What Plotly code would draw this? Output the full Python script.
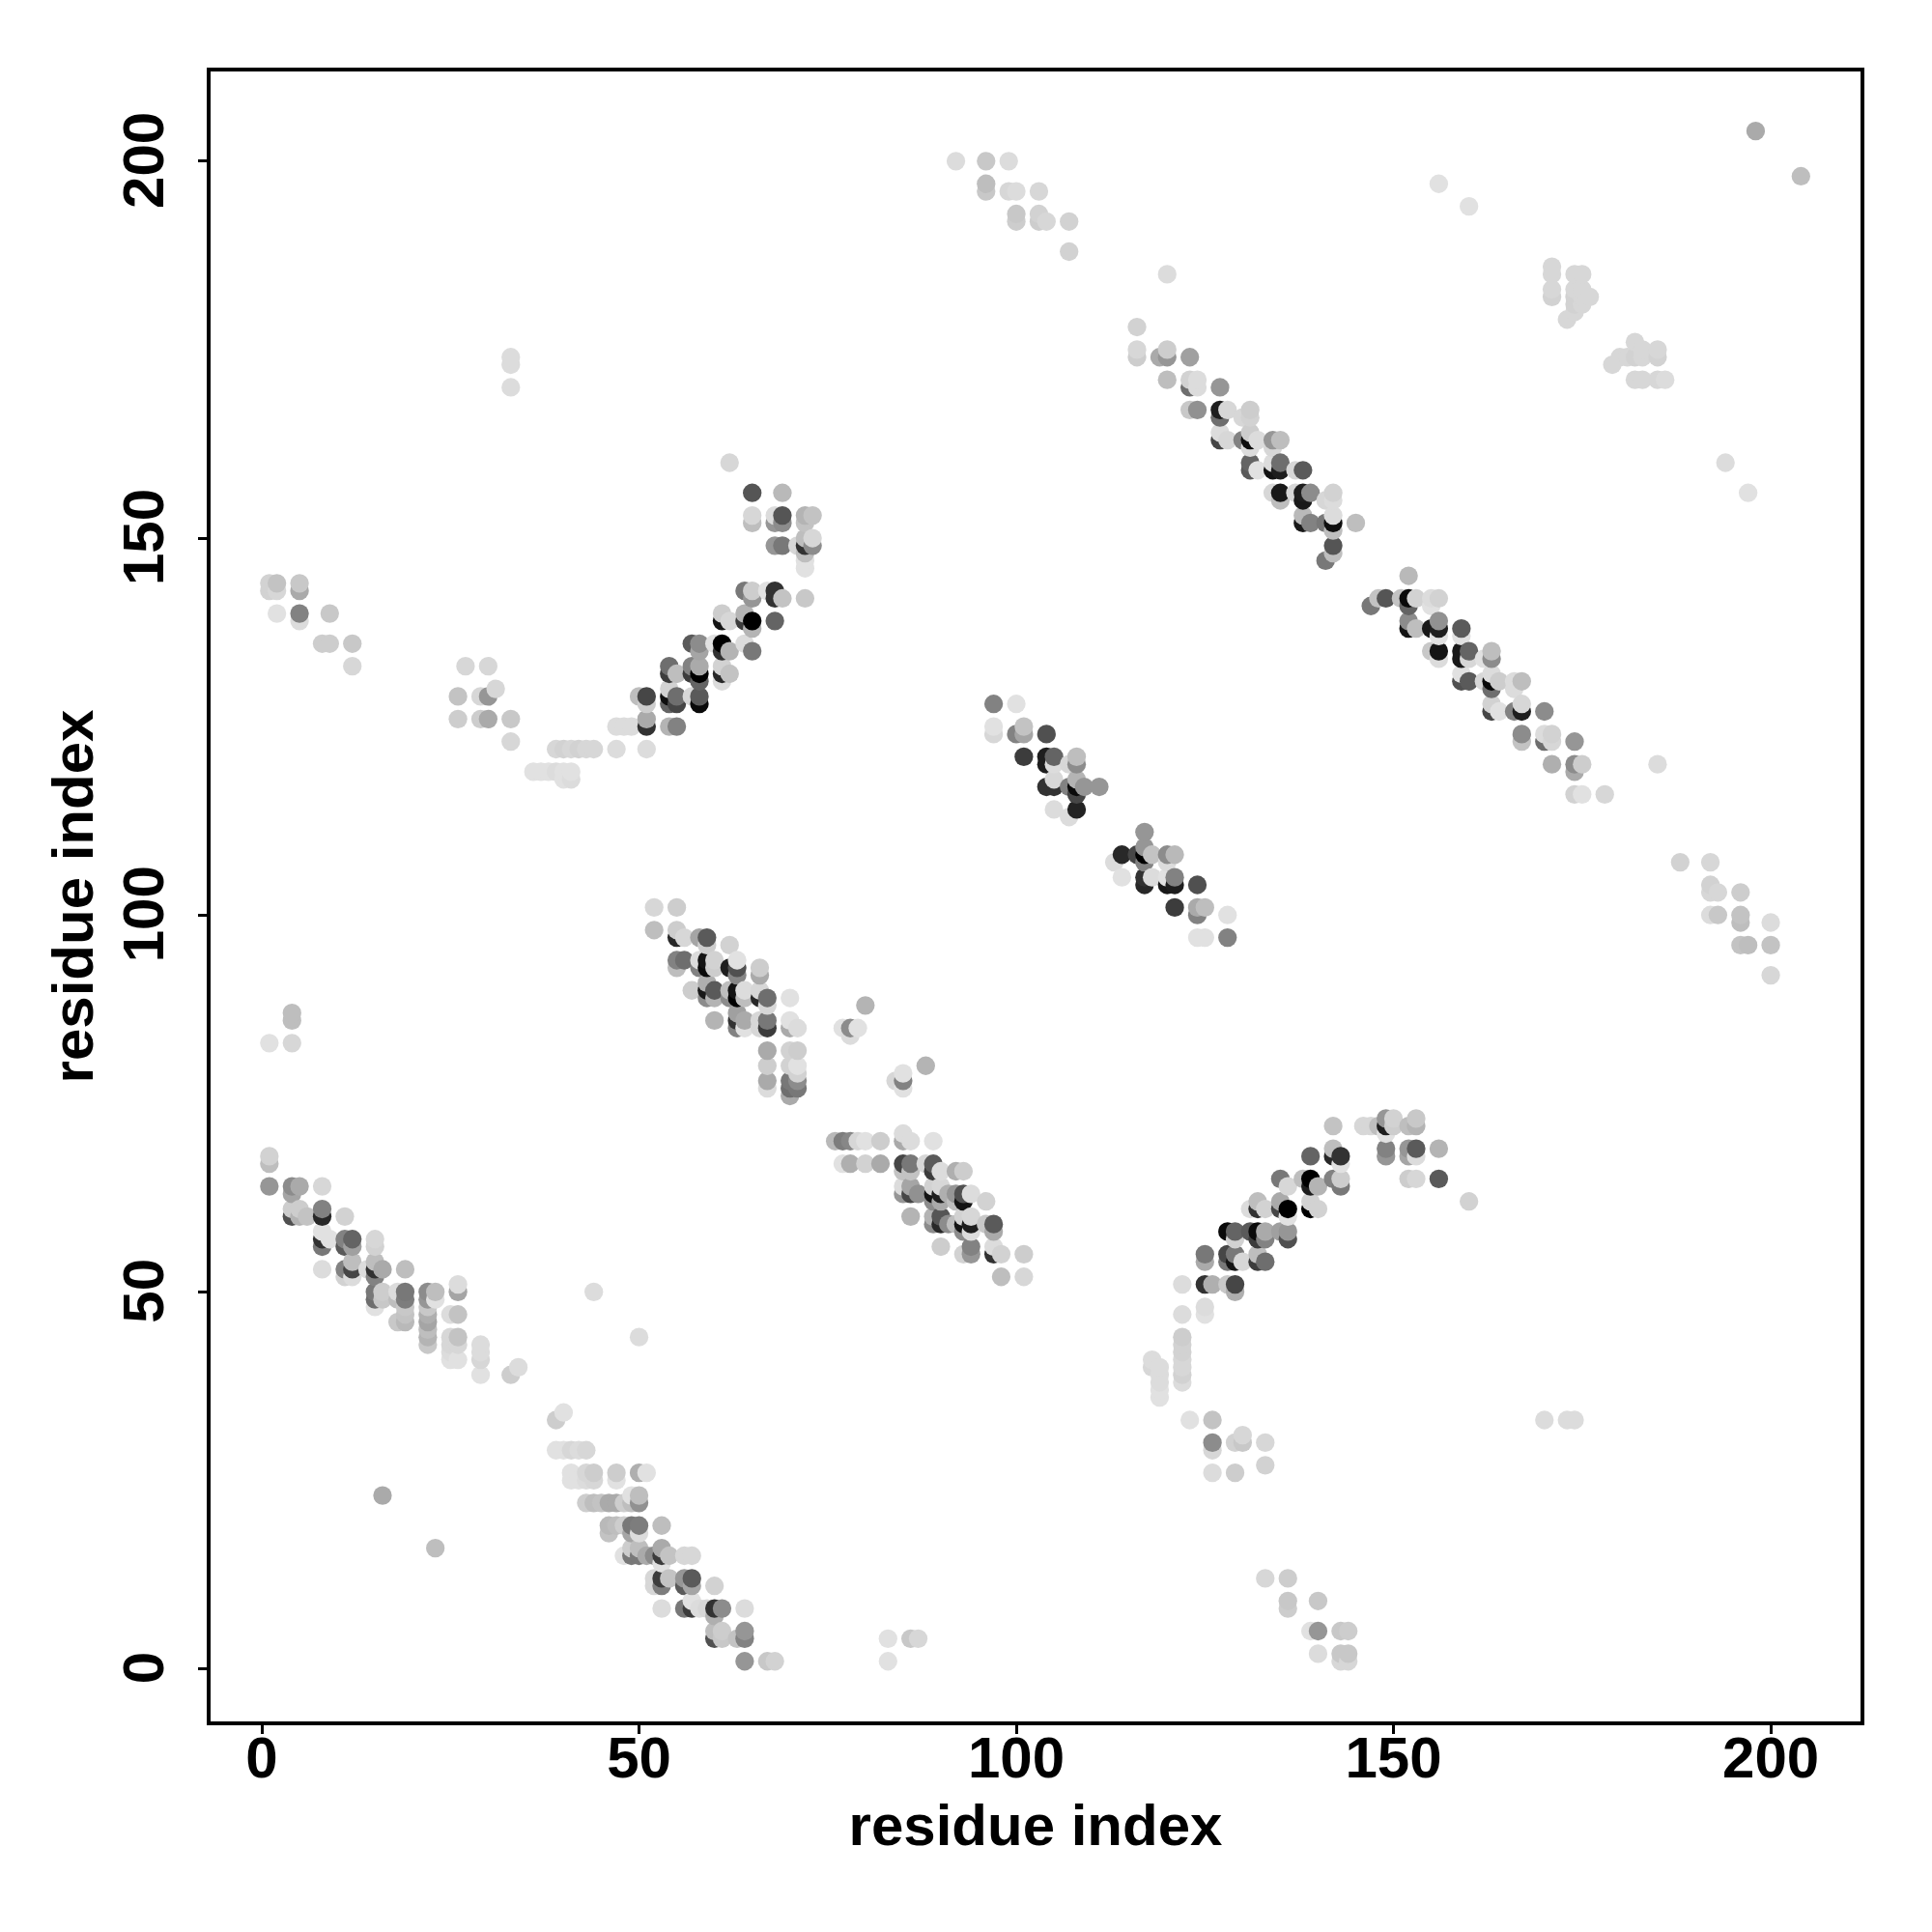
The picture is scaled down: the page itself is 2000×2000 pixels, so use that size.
import plotly.graph_objects as go

# (residue_x, residue_y, grey level 0=black .. 255=white)
band_low_left = [
(1,67,190),(1,68,210),(1,64,150),(4,64,140),(4,63,165),(5,64,170),(4,60,80),(4,61,205),(5,61,205),(5,60,180),(6,60,195),
(8,64,215),(8,60,40),(8,61,130),(8,58,225),(8,57,50),(8,56,120),(9,57,225),(11,60,210),(8,53,220),
(11,57,130),(11,56,90),(12,57,100),(12,56,160),(15,57,215),(15,56,210),(11,53,130),(11,52,210),(12,54,190),(12,53,70),(12,52,220),
(14,53,220),(15,54,190),(15,53,50),(15,52,130),(16,53,170),(19,53,190),
(15,50,120),(15,49,110),(15,48,225),(16,50,205),(16,49,200),(18,50,220),(18,49,190),(18,46,200),
(19,50,120),(19,49,125),(19,48,200),(19,47,195),(19,46,185),
(22,50,140),(22,49,150),(22,48,200),(22,47,175),(22,46,165),(22,45,190),(22,44,180),(22,43,200),(23,50,190),(23,49,225),
(26,50,165),(26,51,220),(25,47,220),(26,47,195),(25,44,215),(25,43,215),(25,42,220),(25,41,225),(26,44,195),(26,43,215),(26,41,225),
(29,43,220),(29,42,220),(29,41,215),(29,39,225),(33,39,205),(34,40,220),(44,50,220),(50,44,220),(16,23,170),(23,16,190),
]
band_low_mid = [
(39,33,205),(40,34,225),(39,29,225),(40,29,225),(41,29,215),(42,29,220),(43,29,215),
(41,26,225),(43,26,215),(44,26,205),(47,26,205),(50,26,175),(51,26,225),(41,25,225),(42,25,225),(43,25,220),(44,25,215),(47,25,225),
(43,22,205),(44,22,190),(45,22,195),(46,22,170),(47,22,170),(48,22,205),(49,22,190),(50,22,145),(49,23,225),(50,23,190),
(46,19,185),(47,19,190),(48,19,205),(49,19,120),(50,19,125),(53,19,190),(46,18,195),(49,18,165),(50,18,220),
(49,16,205),(50,16,190),(53,16,170),(48,15,225),(49,15,120),(50,15,120),(51,15,170),(52,15,140),(53,15,60),(54,15,195),(56,15,215),(57,15,215),(53,14,225),
(52,12,215),(53,12,60),(54,12,195),(56,12,150),(57,12,90),(52,11,215),(53,11,125),(56,11,90),(57,11,165),(60,11,210),
(53,8,220),(56,8,120),(57,8,60),(57,9,225),(58,8,220),(59,8,215),(60,8,50),(61,8,140),(64,8,220),(60,7,175),
(60,5,190),(61,5,205),(64,5,150),(60,4,80),(61,4,200),(63,4,195),(64,4,130),(64,1,150),(67,1,200),(68,1,210),
]
band_mid_a = [
(52,101,215),(55,101,205),(52,98,190),(55,98,205),(55,97,40),(56,97,215),(58,97,165),(59,97,90),(59,96,205),(62,96,210),
(55,94,130),(56,94,110),(55,93,190),(58,94,220),(58,93,130),(59,94,20),(59,93,10),(60,94,210),(60,93,205),(62,93,30),
(63,94,225),(63,93,80),(63,92,135),(66,93,205),(66,92,170),(57,90,205),(59,91,175),(59,90,25),(59,89,140),(60,90,90),(60,89,180),
(62,90,190),(62,89,140),(63,90,20),(63,89,0),(64,90,220),(64,89,190),(66,90,215),(66,89,40),(67,89,110),(67,88,215),(70,89,225),
(60,86,180),(63,87,160),(63,86,50),(63,85,130),(64,86,170),(64,85,225),(66,86,215),(66,85,215),(67,86,120),(67,85,60),
(70,86,225),(70,85,170),(71,85,220),(67,82,170),(67,80,205),(67,78,170),(67,77,220),
(70,82,210),(71,82,205),(70,80,210),(71,80,225),(71,79,210),(70,78,120),(71,78,140),(70,77,110),(71,77,120),(70,76,170),
(80,88,180),(77,85,225),(78,85,140),(79,85,225),(78,84,220),(84,78,215),(85,79,225),(85,78,130),(85,77,225),(88,80,180),
]
band_mid_b = [
(76,70,185),(77,70,125),(78,70,135),(79,70,215),(80,70,225),(82,70,205),(85,71,220),(85,70,170),(86,70,220),(89,70,225),
(77,67,225),(78,67,175),(80,67,210),(82,67,170),(85,67,70),(86,67,120),(85,66,195),(86,66,195),(88,67,215),(89,67,90),(89,66,60),(90,66,220),(92,66,175),(93,66,205),
(85,64,220),(86,64,165),(85,63,150),(86,63,70),(87,63,145),(89,64,210),(89,63,20),(90,64,215),(90,63,30),(89,62,140),(90,62,170),
(91,63,175),(92,63,150),(93,63,80),(93,62,20),(92,62,190),(94,63,220),(96,62,210),
(86,60,180),(89,60,180),(89,59,140),(90,60,85),(90,59,40),(91,59,140),(92,59,190),(93,60,210),(93,59,20),(93,58,140),(94,60,215),(94,59,30),(94,58,220),
(96,59,200),(97,59,90),(97,58,170),(90,56,205),(93,55,210),(94,56,130),(94,55,150),(97,56,220),(97,55,50),(98,55,210),(101,55,205),(98,52,190),(101,52,215),
]
arc_lower = [
(118,41,220),(118,40,215),(119,40,220),(119,39,220),(119,38,220),(119,37,225),(119,36,225),
(122,51,220),(122,47,220),(122,44,205),(122,43,210),(122,42,210),(122,41,215),(122,40,215),(122,39,210),(122,38,220),
(125,48,220),(125,47,225),(125,55,120),(125,54,170),(125,51,50),(126,51,175),(128,51,200),(129,51,70),(129,50,175),
(128,55,70),(128,54,120),(129,55,120),(129,54,20),(130,54,215),(129,57,210),(128,58,10),(129,58,100),(131,58,90),(132,58,10),(132,57,60),(133,58,170),(133,57,130),
(135,58,160),(136,58,150),(136,57,80),(136,60,225),(132,55,190),(132,54,60),(133,54,110),(131,61,220),(132,62,190),(132,61,50),(133,61,210),
(135,62,170),(135,61,70),(136,61,0),(135,65,120),(136,64,215),(138,65,190),(139,65,0),(139,64,30),(140,64,180),(139,62,210),(139,61,0),(140,61,210),
(139,68,100),(142,69,190),(142,68,40),(143,68,50),(143,67,225),(142,65,130),(143,65,205),(143,64,120),
(142,72,195),(146,72,215),(147,72,215),(148,72,190),(149,73,150),(149,72,30),(150,73,210),(150,72,205),(149,71,225),(152,72,190),(153,73,200),(153,72,180),
(149,69,130),(149,68,150),(152,69,150),(152,68,165),(153,69,90),(153,68,220),(156,69,180),(152,65,205),(153,65,215),(156,65,90),(160,62,210),
]
arc_upper = [
(62,160,215),(65,156,85),(69,156,185),(65,153,215),(65,152,190),(68,153,220),(69,153,85),(68,152,150),(69,152,140),(72,153,180),(73,153,195),(72,152,195),
(68,149,150),(69,149,120),(71,149,215),(72,150,190),(72,149,50),(73,150,215),(73,149,140),(72,148,190),(72,147,225),(72,146,225),
(64,143,120),(65,143,205),(65,142,150),(67,143,225),(68,143,50),(68,142,50),(69,142,195),(72,142,200),
(61,140,205),(62,139,215),(61,139,20),(64,140,180),(64,139,60),(65,139,0),(65,138,180),(68,139,100),
(57,136,90),(58,136,140),(58,135,165),(60,136,225),(61,136,0),(61,135,50),(62,135,180),(64,136,220),(65,135,120),
(54,133,110),(54,132,60),(55,132,190),(57,133,130),(57,132,60),(58,133,170),(58,132,0),(58,131,100),(61,133,210),(61,132,40),(61,131,220),(62,132,195),
(50,129,190),(51,129,70),(51,128,205),(54,130,210),(54,129,15),(54,128,100),(55,129,110),(55,128,70),(57,129,215),(58,129,90),(58,128,10),
(47,125,220),(48,125,220),(49,125,220),(51,126,170),(51,125,50),(54,125,180),(55,125,130),(51,122,220),(47,122,220),
(39,122,215),(40,122,210),(41,122,215),(42,122,210),(43,122,215),(44,122,215),
(36,119,225),(37,119,225),(38,119,225),(39,119,220),(40,119,225),(41,119,225),(40,118,225),(41,118,220),
(26,126,205),(29,126,205),(30,126,170),(33,126,200),(26,129,195),(29,129,215),(30,129,150),(31,130,215),(27,133,215),(30,133,215),(33,123,215),
]
band_top = [
(116,175,215),(116,174,205),(119,174,170),(120,175,205),(120,174,150),(123,174,160),(120,171,190),(123,171,210),(123,170,110),(124,171,220),(124,170,220),(127,170,150),
(123,167,200),(124,167,145),(127,167,30),(128,167,215),(127,166,110),(130,166,215),(131,167,205),(131,166,210),
(127,164,220),(127,163,70),(128,163,215),(130,163,130),(131,164,205),(131,163,15),(132,163,220),(131,162,220),(134,163,150),(135,163,190),(134,162,215),
(131,160,100),(131,159,90),(132,159,225),(134,160,220),(134,159,20),(135,160,110),(135,159,30),(137,159,215),(138,159,90),
(134,156,215),(135,156,25),(135,155,190),(137,156,215),(138,156,30),(138,155,25),(139,156,140),(141,155,215),(142,156,210),(142,155,220),
(138,153,185),(138,152,25),(139,152,130),(141,152,120),(142,153,220),(142,152,15),(142,151,190),(145,152,190),(142,149,85),(142,148,190),(141,147,120),
(116,178,210),(120,185,220),
]
band_right = [
(152,145,185),(147,141,120),(148,142,195),(149,142,85),(151,142,195),(152,142,10),(152,141,100),(153,142,210),(155,142,220),(156,142,210),(155,141,225),
(152,139,140),(152,138,20),(153,138,190),(155,138,25),(156,139,145),(156,138,30),(156,137,225),(159,138,90),(159,137,225),
(155,135,200),(156,135,20),(156,134,220),(159,135,25),(159,134,25),(160,135,100),(160,134,215),(162,134,225),(163,135,190),(163,134,140),
(159,132,225),(159,131,80),(160,131,90),(162,131,215),(163,132,220),(163,131,10),(163,130,110),(164,131,205),(166,131,220),(166,130,220),(167,131,190),
(163,128,210),(163,127,70),(164,127,225),(166,127,130),(167,128,215),(167,127,30),(170,127,140),
(167,124,140),(167,123,195),(170,124,220),(170,123,110),(171,124,210),(171,123,215),(174,123,150),
(171,120,175),(174,120,140),(175,120,205),(174,119,170),(174,116,210),(175,116,225),(178,116,215),(185,120,220),
]
band_centre = [
(97,128,130),(100,128,225),(97,125,225),(97,124,215),(100,124,130),(101,125,195),(101,124,165),(104,124,80),
(101,121,60),(104,121,30),(104,120,30),(105,121,100),(105,120,220),(107,120,215),(108,121,190),(108,120,140),
(104,117,50),(105,118,215),(105,117,50),(107,117,130),(108,118,180),(108,117,10),(108,116,70),(109,117,150),(111,117,150),
(105,114,220),(107,113,220),(108,114,35),(117,111,150),(113,107,220),(114,108,40),(114,105,225),(116,108,70),(117,109,150),(117,108,0),(118,108,195),(117,107,130),
(120,108,140),(121,108,185),(120,107,220),(117,105,50),(117,104,40),(118,105,220),(120,105,225),(121,105,130),(120,104,25),(121,104,30),(124,104,80),
(121,101,60),(124,101,170),(124,100,130),(125,101,190),(128,100,225),(124,97,225),(125,97,225),(128,97,130),
]
scattered = [
(92,200,220),(96,200,200),(99,200,220),(96,197,190),(96,196,200),(99,196,215),(100,196,220),(103,196,215),(100,193,200),(100,192,205),(103,193,210),(103,192,205),(104,192,215),(107,192,210),(107,188,210),
(156,197,225),(160,194,225),(198,204,170),(204,198,190),
(171,186,215),(171,185,215),(171,183,215),(171,182,210),(174,185,215),(175,185,215),(174,183,215),(175,183,215),(174,182,210),(175,182,215),(174,181,210),(175,181,215),(173,179,215),(174,180,215),(176,182,215),
(179,173,215),(180,174,215),(181,174,215),(182,176,215),(182,174,210),(183,175,215),(183,174,215),(185,175,215),(185,174,210),(182,171,215),(183,171,215),(185,171,215),(186,171,220),
(194,160,220),(197,156,225),(188,107,210),(192,107,215),(192,104,210),(192,103,215),(193,103,215),(192,100,220),(193,100,200),(196,103,205),(196,100,195),(196,99,190),(196,96,195),(197,96,190),(200,99,220),(200,96,195),(200,92,215),
(1,83,225),(4,83,215),(4,87,190),(4,86,190),
(1,144,210),(2,144,195),(1,143,210),(2,143,215),(5,144,200),(5,143,170),(5,140,130),(5,139,220),(2,140,225),(9,140,200),(8,136,205),(9,136,205),(12,136,200),(12,133,215),
(33,174,220),(33,173,220),(33,170,220),
(83,4,225),(83,1,225),(86,4,200),(87,4,215),
(133,12,215),(136,12,205),(136,9,200),(136,8,205),(140,9,200),(139,5,225),(140,5,150),(140,2,220),(143,5,200),(144,5,205),(143,2,200),(144,2,200),(143,1,215),(144,1,215),
(123,33,225),(126,33,195),(126,30,140),(126,29,215),(126,26,220),(129,30,210),(130,31,215),(130,30,200),(129,26,205),(133,30,215),(133,27,210),
(170,33,220),(173,33,220),(174,33,220),
]

axis_ticks = [0, 50, 100, 150, 200]
axis_label = "residue index"

points = sorted(band_low_left + band_low_mid + band_mid_a + band_mid_b + arc_lower + arc_upper
                + band_top + band_right + band_centre + scattered, key=lambda p: (p[0], p[1]))

FONT = "Liberation Sans"
fig = go.Figure(go.Scatter(
    x=[p[0] for p in points], y=[p[1] for p in points], mode="markers",
    marker=dict(size=19.3, color=[p[2] for p in points],
                colorscale=[[0, "rgb(0,0,0)"], [1, "rgb(255,255,255)"]],
                cmin=0, cmax=255, showscale=False, line=dict(width=0)),
    showlegend=False, hoverinfo="x+y",
))
axis = dict(tickmode="array", tickvals=axis_ticks, ticks="outside", ticklen=9, tickwidth=3,
            tickcolor="black", showline=True, linecolor="black", linewidth=3.5, mirror=True,
            showgrid=False, zeroline=False,
            tickfont=dict(family=FONT, size=60, color="black", weight=700))
fig.update_xaxes(axis, range=[-6.79, 211.9], ticklabelstandoff=-27,
                 title=dict(text=axis_label, standoff=17, font=dict(family=FONT, size=60, color="black", weight=700)))
fig.update_yaxes(axis, range=[-6.98, 211.9], tickangle=-90, ticklabelstandoff=12, ticklabelshift=8,
                 title=dict(text=axis_label, standoff=0, font=dict(family=FONT, size=60, color="black", weight=700)))
fig.update_layout(width=2000, height=2000, margin=dict(l=210, r=82, t=66, b=226, autoexpand=False),
                  paper_bgcolor="white", plot_bgcolor="white")
fig.write_html("out.html")
